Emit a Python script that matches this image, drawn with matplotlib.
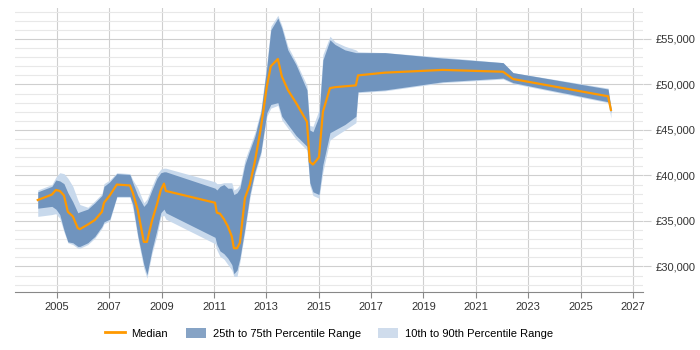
import numpy as np
import matplotlib
matplotlib.use("Agg")
import matplotlib.pyplot as plt
from matplotlib.patches import Patch
from matplotlib.lines import Line2D
from matplotlib.ticker import FuncFormatter, MultipleLocator

plt.rcParams['font.family'] = ['Liberation Sans', 'DejaVu Sans']

# decimal years and salary percentiles
years = [2004.27, 2004.81, 2004.96, 2005.11, 2005.27, 2005.42, 2005.61, 2005.80, 2005.88,
         2006.18, 2006.45, 2006.72, 2006.80, 2007.02, 2007.29, 2007.79, 2007.90, 2008.09,
         2008.32, 2008.44, 2008.63, 2008.82, 2008.97, 2009.09, 2009.16, 2011.04, 2011.11,
         2011.23, 2011.38, 2011.53, 2011.68, 2011.76, 2011.88, 2011.99, 2012.18, 2012.37,
         2012.56, 2012.79, 2013.02, 2013.17, 2013.44, 2013.59, 2013.82, 2014.13, 2014.55,
         2014.66, 2014.78, 2015.01, 2015.16, 2015.43, 2015.62, 2016.00, 2016.42, 2016.50,
         2017.53, 2019.74, 2022.04, 2022.42, 2026.05, 2026.16]
median = [37300, 37900, 38400, 38300, 37800, 36000, 35500, 34200, 34100,
          34600, 35100, 36000, 37000, 37800, 39000, 38900, 38100, 36200,
          32700, 32700, 35000, 36800, 38400, 39100, 38300, 37000, 35900,
          35800, 35200, 34400, 33300, 32000, 32000, 32600, 37500, 39000,
          41500, 45200, 49800, 52000, 52800, 50900, 49400, 48000, 45900,
          41500, 41200, 42000, 47000, 49600, 49700, 49800, 49900, 51000,
          51300, 51600, 51400, 50600, 48700, 47200]
p75 = [38200, 38800, 39500, 39400, 39100, 38100, 37100, 35900, 36000,
       36300, 37000, 37800, 38800, 39300, 40200, 40100, 39200, 37800,
       36600, 37000, 38400, 39700, 40300, 40400, 40400, 38600, 38400,
       38800, 39000, 38600, 38600, 37900, 38100, 38600, 41200, 42800,
       44300, 46900, 52000, 56000, 57300, 56200, 53800, 52200, 49400,
       45000, 44800, 46500, 52700, 54900, 54400, 53800, 53500, 53500,
       53500, 52900, 52400, 51300, 49500, 47400]
p25 = [36400, 36600, 36300, 35700, 34000, 32700, 32600, 32200, 32200,
       32600, 33300, 34400, 34900, 35200, 37700, 37700, 36800, 33400,
       30200, 29100, 31800, 34000, 35900, 36300, 35900, 33200, 32400,
       31700, 31400, 30900, 30200, 29200, 29600, 30900, 34200, 37900,
       40400, 42600, 46900, 47800, 48000, 46500, 45600, 44400, 43200,
       39200, 38200, 37900, 41200, 44700, 45000, 45600, 46500, 49200,
       49400, 50300, 50700, 50200, 48100, 46900]
p90 = [38400, 39000, 39800, 40300, 40200, 39700, 38800, 37300, 36800,
       36500, 37200, 38000, 39100, 39500, 40300, 40200, 39500, 38600,
       37000, 37400, 38800, 40100, 40700, 40800, 40800, 39300, 39100,
       39100, 39200, 39200, 39200, 38400, 38600, 39000, 41700, 43200,
       44700, 47200, 52400, 56400, 57600, 56500, 54200, 52500, 49900,
       45500, 45400, 47200, 53300, 55300, 54700, 54200, 53800, 53600,
       53500, 53000, 52400, 51300, 49600, 47600]
p10 = [35500, 35700, 35800, 35300, 33800, 32600, 32400, 32000, 32000,
       32400, 33100, 34200, 34700, 35000, 37600, 37600, 36400, 33100,
       29800, 28700, 31400, 33400, 35500, 35600, 35200, 32500, 31800,
       31100, 30800, 30200, 29600, 28900, 28900, 30500, 33800, 37500,
       40100, 42300, 46500, 47400, 47700, 46100, 45200, 44000, 42800,
       38900, 37800, 37500, 40400, 43900, 44300, 45000, 45800, 49100,
       49300, 50200, 50600, 50100, 48000, 46300]

x_ticks = [2005, 2007, 2009, 2011, 2013, 2015, 2017, 2019, 2021, 2023, 2025, 2027]

orange = '#ff9900'
dark_band = '#7094be'
light_band = '#c8d9ec'

fig = plt.figure(figsize=(7, 3.5), dpi=100)
ax = fig.add_axes([0.0214, 0.166, 0.897, 0.811])

ax.fill_between(years, p10, p90, color=light_band, lw=0, zorder=2)
ax.fill_between(years, p25, p75, color=dark_band, lw=0, zorder=3)
ax.plot(years, median, color=orange, lw=1.6, zorder=4)

ax.set_xlim(2003.4, 2027.38)
ax.set_ylim(27200, 58400)

ax.set_xticks(x_ticks)
ax.yaxis.set_major_locator(MultipleLocator(5000))
ax.yaxis.set_minor_locator(MultipleLocator(1000))
ax.yaxis.set_major_formatter(FuncFormatter(lambda v, p: f"£{int(v):,}"))
ax.yaxis.tick_right()

ax.grid(True, which='major', axis='both', color='#cfcfcf', lw=0.8, zorder=0)
ax.grid(True, which='minor', axis='y', color='#e8e8e8', lw=0.8, zorder=0)
ax.set_axisbelow(True)

for s in ['top', 'left', 'right']:
    ax.spines[s].set_visible(False)
ax.spines['bottom'].set_color('#888888')
ax.spines['bottom'].set_linewidth(0.8)

ax.tick_params(axis='x', length=4, color='#888888', labelsize=8, labelcolor='#333333', pad=3)
ax.tick_params(axis='y', which='major', length=6, color='#cfcfcf', labelsize=8,
               labelcolor='#333333', pad=3)
ax.tick_params(axis='y', which='minor', length=0)

handles = [Line2D([0], [0], color=orange, lw=2),
           Patch(facecolor='#86a3c5', edgecolor='none'),
           Patch(facecolor='#cfdcec', edgecolor='none')]
labels = ['Median', '25th to 75th Percentile Range', '10th to 90th Percentile Range']
fig.legend(handles, labels, loc='center', bbox_to_anchor=(0.47, 0.048), ncol=3,
           frameon=False, fontsize=8, handlelength=1.8, handleheight=1.1,
           columnspacing=1.6, handletextpad=0.6)

fig.savefig('out.png', dpi=100)
